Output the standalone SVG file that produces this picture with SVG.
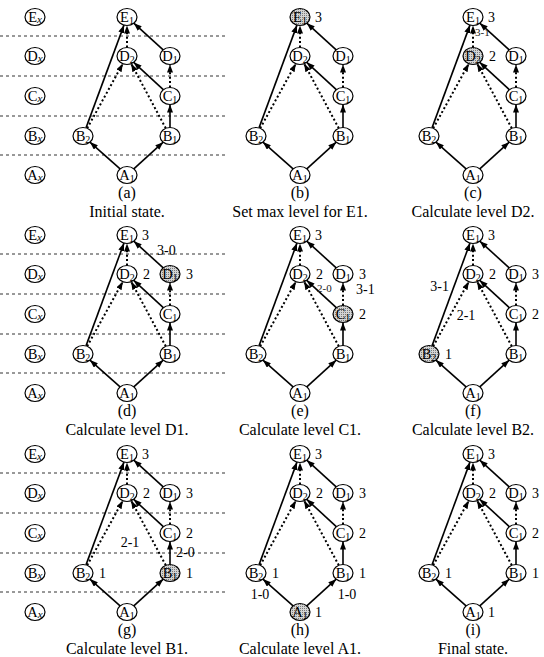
<svg xmlns="http://www.w3.org/2000/svg" width="544" height="657" viewBox="0 0 544 657">
<defs>
<style>
.n{fill:#fff;stroke:#000;stroke-width:1.2}
.h{fill:url(#hatch);stroke:#000;stroke-width:1.2}
.nl{font-family:"Liberation Serif","Times New Roman",serif;font-size:14.5px;text-anchor:middle;fill:#000}
.sb{font-size:10px}
.it{font-size:11px;font-style:italic}
.lv{font-family:"Liberation Serif","Times New Roman",serif;font-size:14px;fill:#000}
.sm{font-family:"Liberation Serif","Times New Roman",serif;font-size:11px;fill:#222}
.mid{text-anchor:middle}
.end{text-anchor:end}
.cap{font-family:"Liberation Serif","Times New Roman",serif;font-size:16px;text-anchor:middle;fill:#000}
.s{stroke:#000;stroke-width:1.6;fill:none;marker-end:url(#ah)}
.d{stroke:#000;stroke-width:2;stroke-dasharray:2 2.4;fill:none;marker-end:url(#ah)}
.grid{stroke:#333;stroke-width:1;stroke-dasharray:3 3;fill:none}
</style>
<pattern id="hatch" width="2" height="2" patternUnits="userSpaceOnUse"><rect width="2" height="2" fill="#d4d4d4"/><rect width="1" height="1" fill="#7a7a7a"/></pattern>
<marker id="ah" viewBox="0 0 8 6" refX="8" refY="3" markerWidth="8" markerHeight="6" markerUnits="userSpaceOnUse" orient="auto"><path d="M0,0 L8,3 L0,6 z" fill="#000"/></marker>
</defs>
<rect width="544" height="657" fill="#fff"/>

<g id="grid">
<line class="grid" x1="0" y1="36" x2="225" y2="36"/><line class="grid" x1="0" y1="76" x2="225" y2="76"/><line class="grid" x1="0" y1="116" x2="225" y2="116"/><line class="grid" x1="0" y1="155" x2="225" y2="155"/>
<line class="grid" x1="0" y1="254" x2="225" y2="254"/><line class="grid" x1="0" y1="294" x2="225" y2="294"/><line class="grid" x1="0" y1="334" x2="225" y2="334"/><line class="grid" x1="0" y1="373" x2="225" y2="373"/>
<line class="grid" x1="0" y1="473" x2="225" y2="473"/><line class="grid" x1="0" y1="513" x2="225" y2="513"/><line class="grid" x1="0" y1="553" x2="225" y2="553"/><line class="grid" x1="0" y1="592" x2="225" y2="592"/>
</g>

<g id="connectors">
<g transform="translate(0,0)"><line class="s" x1="86" y1="127.9" x2="124" y2="25.1"/><line class="d" x1="127" y1="47.5" x2="127" y2="25.5"/><line class="s" x1="163.2" y1="49.8" x2="133.8" y2="23.2"/><line class="d" x1="87.2" y1="128.3" x2="122.8" y2="63.7"/><line class="d" x1="165.8" y1="128.3" x2="131.2" y2="63.7"/><line class="s" x1="163.3" y1="89.7" x2="133.7" y2="62.3"/><line class="d" x1="170" y1="87.5" x2="170" y2="64.5"/><line class="s" x1="170" y1="127.5" x2="170" y2="104.5"/><line class="s" x1="120.1" y1="168.9" x2="89.9" y2="142.1"/><line class="s" x1="133.8" y1="168.8" x2="163.2" y2="142.2"/></g>
<g transform="translate(173,0)"><line class="s" x1="86" y1="127.9" x2="124" y2="25.1"/><line class="d" x1="127" y1="47.5" x2="127" y2="25.5"/><line class="s" x1="163.2" y1="49.8" x2="133.8" y2="23.2"/><line class="d" x1="87.2" y1="128.3" x2="122.8" y2="63.7"/><line class="d" x1="165.8" y1="128.3" x2="131.2" y2="63.7"/><line class="s" x1="163.3" y1="89.7" x2="133.7" y2="62.3"/><line class="d" x1="170" y1="87.5" x2="170" y2="64.5"/><line class="s" x1="170" y1="127.5" x2="170" y2="104.5"/><line class="s" x1="120.1" y1="168.9" x2="89.9" y2="142.1"/><line class="s" x1="133.8" y1="168.8" x2="163.2" y2="142.2"/></g>
<g transform="translate(346,0)"><line class="s" x1="86" y1="127.9" x2="124" y2="25.1"/><line class="d" x1="127" y1="47.5" x2="127" y2="25.5"/><line class="s" x1="163.2" y1="49.8" x2="133.8" y2="23.2"/><line class="d" x1="87.2" y1="128.3" x2="122.8" y2="63.7"/><line class="d" x1="165.8" y1="128.3" x2="131.2" y2="63.7"/><line class="s" x1="163.3" y1="89.7" x2="133.7" y2="62.3"/><line class="d" x1="170" y1="87.5" x2="170" y2="64.5"/><line class="s" x1="170" y1="127.5" x2="170" y2="104.5"/><line class="s" x1="120.1" y1="168.9" x2="89.9" y2="142.1"/><line class="s" x1="133.8" y1="168.8" x2="163.2" y2="142.2"/></g>
<g transform="translate(0,218)"><line class="s" x1="86" y1="127.9" x2="124" y2="25.1"/><line class="d" x1="127" y1="47.5" x2="127" y2="25.5"/><line class="s" x1="163.2" y1="49.8" x2="133.8" y2="23.2"/><line class="d" x1="87.2" y1="128.3" x2="122.8" y2="63.7"/><line class="d" x1="165.8" y1="128.3" x2="131.2" y2="63.7"/><line class="s" x1="163.3" y1="89.7" x2="133.7" y2="62.3"/><line class="d" x1="170" y1="87.5" x2="170" y2="64.5"/><line class="s" x1="170" y1="127.5" x2="170" y2="104.5"/><line class="s" x1="120.1" y1="168.9" x2="89.9" y2="142.1"/><line class="s" x1="133.8" y1="168.8" x2="163.2" y2="142.2"/></g>
<g transform="translate(173,218)"><line class="s" x1="86" y1="127.9" x2="124" y2="25.1"/><line class="d" x1="127" y1="47.5" x2="127" y2="25.5"/><line class="s" x1="163.2" y1="49.8" x2="133.8" y2="23.2"/><line class="d" x1="87.2" y1="128.3" x2="122.8" y2="63.7"/><line class="d" x1="165.8" y1="128.3" x2="131.2" y2="63.7"/><line class="s" x1="163.3" y1="89.7" x2="133.7" y2="62.3"/><line class="d" x1="170" y1="87.5" x2="170" y2="64.5"/><line class="s" x1="170" y1="127.5" x2="170" y2="104.5"/><line class="s" x1="120.1" y1="168.9" x2="89.9" y2="142.1"/><line class="s" x1="133.8" y1="168.8" x2="163.2" y2="142.2"/></g>
<g transform="translate(346,218)"><line class="s" x1="86" y1="127.9" x2="124" y2="25.1"/><line class="d" x1="127" y1="47.5" x2="127" y2="25.5"/><line class="s" x1="163.2" y1="49.8" x2="133.8" y2="23.2"/><line class="d" x1="87.2" y1="128.3" x2="122.8" y2="63.7"/><line class="d" x1="165.8" y1="128.3" x2="131.2" y2="63.7"/><line class="s" x1="163.3" y1="89.7" x2="133.7" y2="62.3"/><line class="d" x1="170" y1="87.5" x2="170" y2="64.5"/><line class="s" x1="170" y1="127.5" x2="170" y2="104.5"/><line class="s" x1="120.1" y1="168.9" x2="89.9" y2="142.1"/><line class="s" x1="133.8" y1="168.8" x2="163.2" y2="142.2"/></g>
<g transform="translate(0,437)"><line class="s" x1="86" y1="127.9" x2="124" y2="25.1"/><line class="d" x1="127" y1="47.5" x2="127" y2="25.5"/><line class="s" x1="163.2" y1="49.8" x2="133.8" y2="23.2"/><line class="d" x1="87.2" y1="128.3" x2="122.8" y2="63.7"/><line class="d" x1="165.8" y1="128.3" x2="131.2" y2="63.7"/><line class="s" x1="163.3" y1="89.7" x2="133.7" y2="62.3"/><line class="d" x1="170" y1="87.5" x2="170" y2="64.5"/><line class="s" x1="170" y1="127.5" x2="170" y2="104.5"/><line class="s" x1="120.1" y1="168.9" x2="89.9" y2="142.1"/><line class="s" x1="133.8" y1="168.8" x2="163.2" y2="142.2"/></g>
<g transform="translate(173,437)"><line class="s" x1="86" y1="127.9" x2="124" y2="25.1"/><line class="d" x1="127" y1="47.5" x2="127" y2="25.5"/><line class="s" x1="163.2" y1="49.8" x2="133.8" y2="23.2"/><line class="d" x1="87.2" y1="128.3" x2="122.8" y2="63.7"/><line class="d" x1="165.8" y1="128.3" x2="131.2" y2="63.7"/><line class="s" x1="163.3" y1="89.7" x2="133.7" y2="62.3"/><line class="d" x1="170" y1="87.5" x2="170" y2="64.5"/><line class="s" x1="170" y1="127.5" x2="170" y2="104.5"/><line class="s" x1="120.1" y1="168.9" x2="89.9" y2="142.1"/><line class="s" x1="133.8" y1="168.8" x2="163.2" y2="142.2"/></g>
<g transform="translate(346,437)"><line class="s" x1="86" y1="127.9" x2="124" y2="25.1"/><line class="d" x1="127" y1="47.5" x2="127" y2="25.5"/><line class="s" x1="163.2" y1="49.8" x2="133.8" y2="23.2"/><line class="d" x1="87.2" y1="128.3" x2="122.8" y2="63.7"/><line class="d" x1="165.8" y1="128.3" x2="131.2" y2="63.7"/><line class="s" x1="163.3" y1="89.7" x2="133.7" y2="62.3"/><line class="d" x1="170" y1="87.5" x2="170" y2="64.5"/><line class="s" x1="170" y1="127.5" x2="170" y2="104.5"/><line class="s" x1="120.1" y1="168.9" x2="89.9" y2="142.1"/><line class="s" x1="133.8" y1="168.8" x2="163.2" y2="142.2"/></g>
</g>

<g id="row-labels">
<g id="r1-Ex" transform="translate(35,17)"><ellipse class="n" rx="10" ry="8.5"/><text class="nl" y="5">E<tspan class="it" dy="1">x</tspan></text></g>
<g id="r1-Dx" transform="translate(35,56)"><ellipse class="n" rx="10" ry="8.5"/><text class="nl" y="5">D<tspan class="it" dy="1">x</tspan></text></g>
<g id="r1-Cx" transform="translate(35,96)"><ellipse class="n" rx="10" ry="8.5"/><text class="nl" y="5">C<tspan class="it" dy="1">x</tspan></text></g>
<g id="r1-Bx" transform="translate(35,136)"><ellipse class="n" rx="10" ry="8.5"/><text class="nl" y="5">B<tspan class="it" dy="1">x</tspan></text></g>
<g id="r1-Ax" transform="translate(35,175)"><ellipse class="n" rx="10" ry="8.5"/><text class="nl" y="5">A<tspan class="it" dy="1">x</tspan></text></g>
<g id="r2-Ex" transform="translate(35,235)"><ellipse class="n" rx="10" ry="8.5"/><text class="nl" y="5">E<tspan class="it" dy="1">x</tspan></text></g>
<g id="r2-Dx" transform="translate(35,274)"><ellipse class="n" rx="10" ry="8.5"/><text class="nl" y="5">D<tspan class="it" dy="1">x</tspan></text></g>
<g id="r2-Cx" transform="translate(35,314)"><ellipse class="n" rx="10" ry="8.5"/><text class="nl" y="5">C<tspan class="it" dy="1">x</tspan></text></g>
<g id="r2-Bx" transform="translate(35,354)"><ellipse class="n" rx="10" ry="8.5"/><text class="nl" y="5">B<tspan class="it" dy="1">x</tspan></text></g>
<g id="r2-Ax" transform="translate(35,393)"><ellipse class="n" rx="10" ry="8.5"/><text class="nl" y="5">A<tspan class="it" dy="1">x</tspan></text></g>
<g id="r3-Ex" transform="translate(35,454)"><ellipse class="n" rx="10" ry="8.5"/><text class="nl" y="5">E<tspan class="it" dy="1">x</tspan></text></g>
<g id="r3-Dx" transform="translate(35,493)"><ellipse class="n" rx="10" ry="8.5"/><text class="nl" y="5">D<tspan class="it" dy="1">x</tspan></text></g>
<g id="r3-Cx" transform="translate(35,533)"><ellipse class="n" rx="10" ry="8.5"/><text class="nl" y="5">C<tspan class="it" dy="1">x</tspan></text></g>
<g id="r3-Bx" transform="translate(35,573)"><ellipse class="n" rx="10" ry="8.5"/><text class="nl" y="5">B<tspan class="it" dy="1">x</tspan></text></g>
<g id="r3-Ax" transform="translate(35,612)"><ellipse class="n" rx="10" ry="8.5"/><text class="nl" y="5">A<tspan class="it" dy="1">x</tspan></text></g>
</g>

<g id="nodes">
<g id="a-E1" transform="translate(127,17)"><ellipse class="n" rx="10" ry="8.5"/><text class="nl" y="5">E<tspan class="sb" dy="2">1</tspan></text></g>
<g id="a-D2" transform="translate(127,56)"><ellipse class="n" rx="10" ry="8.5"/><text class="nl" y="5">D<tspan class="sb" dy="2">2</tspan></text></g>
<g id="a-D1" transform="translate(170,56)"><ellipse class="n" rx="10" ry="8.5"/><text class="nl" y="5">D<tspan class="sb" dy="2">1</tspan></text></g>
<g id="a-C1" transform="translate(170,96)"><ellipse class="n" rx="10" ry="8.5"/><text class="nl" y="5">C<tspan class="sb" dy="2">1</tspan></text></g>
<g id="a-B2" transform="translate(83,136)"><ellipse class="n" rx="10" ry="8.5"/><text class="nl" y="5">B<tspan class="sb" dy="2">2</tspan></text></g>
<g id="a-B1" transform="translate(170,136)"><ellipse class="n" rx="10" ry="8.5"/><text class="nl" y="5">B<tspan class="sb" dy="2">1</tspan></text></g>
<g id="a-A1" transform="translate(127,175)"><ellipse class="n" rx="10" ry="8.5"/><text class="nl" y="5">A<tspan class="sb" dy="2">1</tspan></text></g>

<g id="b-E1" transform="translate(300,17)"><ellipse class="h" rx="10" ry="8.5"/><text class="nl" y="5">E<tspan class="sb" dy="2">1</tspan></text></g>
<g id="b-D2" transform="translate(300,56)"><ellipse class="n" rx="10" ry="8.5"/><text class="nl" y="5">D<tspan class="sb" dy="2">2</tspan></text></g>
<g id="b-D1" transform="translate(343,56)"><ellipse class="n" rx="10" ry="8.5"/><text class="nl" y="5">D<tspan class="sb" dy="2">1</tspan></text></g>
<g id="b-C1" transform="translate(343,96)"><ellipse class="n" rx="10" ry="8.5"/><text class="nl" y="5">C<tspan class="sb" dy="2">1</tspan></text></g>
<g id="b-B2" transform="translate(256,136)"><ellipse class="n" rx="10" ry="8.5"/><text class="nl" y="5">B<tspan class="sb" dy="2">2</tspan></text></g>
<g id="b-B1" transform="translate(343,136)"><ellipse class="n" rx="10" ry="8.5"/><text class="nl" y="5">B<tspan class="sb" dy="2">1</tspan></text></g>
<g id="b-A1" transform="translate(300,175)"><ellipse class="n" rx="10" ry="8.5"/><text class="nl" y="5">A<tspan class="sb" dy="2">1</tspan></text></g>

<g id="c-E1" transform="translate(473,17)"><ellipse class="n" rx="10" ry="8.5"/><text class="nl" y="5">E<tspan class="sb" dy="2">1</tspan></text></g>
<g id="c-D2" transform="translate(473,56)"><ellipse class="h" rx="10" ry="8.5"/><text class="nl" y="5">D<tspan class="sb" dy="2">2</tspan></text></g>
<g id="c-D1" transform="translate(516,56)"><ellipse class="n" rx="10" ry="8.5"/><text class="nl" y="5">D<tspan class="sb" dy="2">1</tspan></text></g>
<g id="c-C1" transform="translate(516,96)"><ellipse class="n" rx="10" ry="8.5"/><text class="nl" y="5">C<tspan class="sb" dy="2">1</tspan></text></g>
<g id="c-B2" transform="translate(429,136)"><ellipse class="n" rx="10" ry="8.5"/><text class="nl" y="5">B<tspan class="sb" dy="2">2</tspan></text></g>
<g id="c-B1" transform="translate(516,136)"><ellipse class="n" rx="10" ry="8.5"/><text class="nl" y="5">B<tspan class="sb" dy="2">1</tspan></text></g>
<g id="c-A1" transform="translate(473,175)"><ellipse class="n" rx="10" ry="8.5"/><text class="nl" y="5">A<tspan class="sb" dy="2">1</tspan></text></g>

<g id="d-E1" transform="translate(127,235)"><ellipse class="n" rx="10" ry="8.5"/><text class="nl" y="5">E<tspan class="sb" dy="2">1</tspan></text></g>
<g id="d-D2" transform="translate(127,274)"><ellipse class="n" rx="10" ry="8.5"/><text class="nl" y="5">D<tspan class="sb" dy="2">2</tspan></text></g>
<g id="d-D1" transform="translate(170,274)"><ellipse class="h" rx="10" ry="8.5"/><text class="nl" y="5">D<tspan class="sb" dy="2">1</tspan></text></g>
<g id="d-C1" transform="translate(170,314)"><ellipse class="n" rx="10" ry="8.5"/><text class="nl" y="5">C<tspan class="sb" dy="2">1</tspan></text></g>
<g id="d-B2" transform="translate(83,354)"><ellipse class="n" rx="10" ry="8.5"/><text class="nl" y="5">B<tspan class="sb" dy="2">2</tspan></text></g>
<g id="d-B1" transform="translate(170,354)"><ellipse class="n" rx="10" ry="8.5"/><text class="nl" y="5">B<tspan class="sb" dy="2">1</tspan></text></g>
<g id="d-A1" transform="translate(127,393)"><ellipse class="n" rx="10" ry="8.5"/><text class="nl" y="5">A<tspan class="sb" dy="2">1</tspan></text></g>

<g id="e-E1" transform="translate(300,235)"><ellipse class="n" rx="10" ry="8.5"/><text class="nl" y="5">E<tspan class="sb" dy="2">1</tspan></text></g>
<g id="e-D2" transform="translate(300,274)"><ellipse class="n" rx="10" ry="8.5"/><text class="nl" y="5">D<tspan class="sb" dy="2">2</tspan></text></g>
<g id="e-D1" transform="translate(343,274)"><ellipse class="n" rx="10" ry="8.5"/><text class="nl" y="5">D<tspan class="sb" dy="2">1</tspan></text></g>
<g id="e-C1" transform="translate(343,314)"><ellipse class="h" rx="10" ry="8.5"/><text class="nl" y="5">C<tspan class="sb" dy="2">1</tspan></text></g>
<g id="e-B2" transform="translate(256,354)"><ellipse class="n" rx="10" ry="8.5"/><text class="nl" y="5">B<tspan class="sb" dy="2">2</tspan></text></g>
<g id="e-B1" transform="translate(343,354)"><ellipse class="n" rx="10" ry="8.5"/><text class="nl" y="5">B<tspan class="sb" dy="2">1</tspan></text></g>
<g id="e-A1" transform="translate(300,393)"><ellipse class="n" rx="10" ry="8.5"/><text class="nl" y="5">A<tspan class="sb" dy="2">1</tspan></text></g>

<g id="f-E1" transform="translate(473,235)"><ellipse class="n" rx="10" ry="8.5"/><text class="nl" y="5">E<tspan class="sb" dy="2">1</tspan></text></g>
<g id="f-D2" transform="translate(473,274)"><ellipse class="n" rx="10" ry="8.5"/><text class="nl" y="5">D<tspan class="sb" dy="2">2</tspan></text></g>
<g id="f-D1" transform="translate(516,274)"><ellipse class="n" rx="10" ry="8.5"/><text class="nl" y="5">D<tspan class="sb" dy="2">1</tspan></text></g>
<g id="f-C1" transform="translate(516,314)"><ellipse class="n" rx="10" ry="8.5"/><text class="nl" y="5">C<tspan class="sb" dy="2">1</tspan></text></g>
<g id="f-B2" transform="translate(429,354)"><ellipse class="h" rx="10" ry="8.5"/><text class="nl" y="5">B<tspan class="sb" dy="2">2</tspan></text></g>
<g id="f-B1" transform="translate(516,354)"><ellipse class="n" rx="10" ry="8.5"/><text class="nl" y="5">B<tspan class="sb" dy="2">1</tspan></text></g>
<g id="f-A1" transform="translate(473,393)"><ellipse class="n" rx="10" ry="8.5"/><text class="nl" y="5">A<tspan class="sb" dy="2">1</tspan></text></g>

<g id="g-E1" transform="translate(127,454)"><ellipse class="n" rx="10" ry="8.5"/><text class="nl" y="5">E<tspan class="sb" dy="2">1</tspan></text></g>
<g id="g-D2" transform="translate(127,493)"><ellipse class="n" rx="10" ry="8.5"/><text class="nl" y="5">D<tspan class="sb" dy="2">2</tspan></text></g>
<g id="g-D1" transform="translate(170,493)"><ellipse class="n" rx="10" ry="8.5"/><text class="nl" y="5">D<tspan class="sb" dy="2">1</tspan></text></g>
<g id="g-C1" transform="translate(170,533)"><ellipse class="n" rx="10" ry="8.5"/><text class="nl" y="5">C<tspan class="sb" dy="2">1</tspan></text></g>
<g id="g-B2" transform="translate(83,573)"><ellipse class="n" rx="10" ry="8.5"/><text class="nl" y="5">B<tspan class="sb" dy="2">2</tspan></text></g>
<g id="g-B1" transform="translate(170,573)"><ellipse class="h" rx="10" ry="8.5"/><text class="nl" y="5">B<tspan class="sb" dy="2">1</tspan></text></g>
<g id="g-A1" transform="translate(127,612)"><ellipse class="n" rx="10" ry="8.5"/><text class="nl" y="5">A<tspan class="sb" dy="2">1</tspan></text></g>

<g id="h-E1" transform="translate(300,454)"><ellipse class="n" rx="10" ry="8.5"/><text class="nl" y="5">E<tspan class="sb" dy="2">1</tspan></text></g>
<g id="h-D2" transform="translate(300,493)"><ellipse class="n" rx="10" ry="8.5"/><text class="nl" y="5">D<tspan class="sb" dy="2">2</tspan></text></g>
<g id="h-D1" transform="translate(343,493)"><ellipse class="n" rx="10" ry="8.5"/><text class="nl" y="5">D<tspan class="sb" dy="2">1</tspan></text></g>
<g id="h-C1" transform="translate(343,533)"><ellipse class="n" rx="10" ry="8.5"/><text class="nl" y="5">C<tspan class="sb" dy="2">1</tspan></text></g>
<g id="h-B2" transform="translate(256,573)"><ellipse class="n" rx="10" ry="8.5"/><text class="nl" y="5">B<tspan class="sb" dy="2">2</tspan></text></g>
<g id="h-B1" transform="translate(343,573)"><ellipse class="n" rx="10" ry="8.5"/><text class="nl" y="5">B<tspan class="sb" dy="2">1</tspan></text></g>
<g id="h-A1" transform="translate(300,612)"><ellipse class="h" rx="10" ry="8.5"/><text class="nl" y="5">A<tspan class="sb" dy="2">1</tspan></text></g>

<g id="i-E1" transform="translate(473,454)"><ellipse class="n" rx="10" ry="8.5"/><text class="nl" y="5">E<tspan class="sb" dy="2">1</tspan></text></g>
<g id="i-D2" transform="translate(473,493)"><ellipse class="n" rx="10" ry="8.5"/><text class="nl" y="5">D<tspan class="sb" dy="2">2</tspan></text></g>
<g id="i-D1" transform="translate(516,493)"><ellipse class="n" rx="10" ry="8.5"/><text class="nl" y="5">D<tspan class="sb" dy="2">1</tspan></text></g>
<g id="i-C1" transform="translate(516,533)"><ellipse class="n" rx="10" ry="8.5"/><text class="nl" y="5">C<tspan class="sb" dy="2">1</tspan></text></g>
<g id="i-B2" transform="translate(429,573)"><ellipse class="n" rx="10" ry="8.5"/><text class="nl" y="5">B<tspan class="sb" dy="2">2</tspan></text></g>
<g id="i-B1" transform="translate(516,573)"><ellipse class="n" rx="10" ry="8.5"/><text class="nl" y="5">B<tspan class="sb" dy="2">1</tspan></text></g>
<g id="i-A1" transform="translate(473,612)"><ellipse class="n" rx="10" ry="8.5"/><text class="nl" y="5">A<tspan class="sb" dy="2">1</tspan></text></g>
</g>

<g id="levels">
<text class="lv" x="315" y="22">3</text>

<text class="lv" x="488" y="22">3</text><text class="lv" x="489" y="61">2</text><text class="sm" x="475" y="36">3-1</text>

<text class="lv" x="142" y="240">3</text><text class="lv" x="143" y="279">2</text><text class="lv" x="186" y="279">3</text><text class="lv" x="157" y="255">3-0</text>

<text class="lv" x="315" y="240">3</text><text class="lv" x="316" y="279">2</text><text class="lv" x="359" y="279">3</text><text class="lv" x="359" y="319">2</text><text class="sm" x="317" y="292">2-0</text><text class="lv" x="356" y="294">3-1</text>

<text class="lv" x="488" y="240">3</text><text class="lv" x="489" y="279">2</text><text class="lv" x="532" y="279">3</text><text class="lv" x="532" y="319">2</text><text class="lv" x="445" y="359">1</text><text class="lv end" x="449" y="291">3-1</text><text class="lv mid" x="466" y="320">2-1</text>

<text class="lv" x="142" y="459">3</text><text class="lv" x="143" y="498">2</text><text class="lv" x="186" y="498">3</text><text class="lv" x="186" y="538">2</text><text class="lv" x="99" y="578">1</text><text class="lv" x="186" y="578">1</text><text class="lv mid" x="130" y="547">2-1</text><text class="lv" x="176" y="557">2-0</text>

<text class="lv" x="315" y="459">3</text><text class="lv" x="316" y="498">2</text><text class="lv" x="359" y="498">3</text><text class="lv" x="359" y="538">2</text><text class="lv" x="272" y="578">1</text><text class="lv" x="359" y="578">1</text><text class="lv" x="315" y="617">1</text><text class="lv mid" x="260" y="599">1-0</text><text class="lv mid" x="347" y="599">1-0</text>

<text class="lv" x="488" y="459">3</text><text class="lv" x="489" y="498">2</text><text class="lv" x="532" y="498">3</text><text class="lv" x="532" y="538">2</text><text class="lv" x="445" y="578">1</text><text class="lv" x="532" y="578">1</text><text class="lv" x="488" y="617">1</text>
</g>

<g id="captions">
<text class="cap" x="127" y="198">(a)</text><text class="cap" x="127" y="217">Initial state.</text>
<text class="cap" x="300" y="198">(b)</text><text class="cap" x="300" y="217">Set max level for E1.</text>
<text class="cap" x="473" y="198">(c)</text><text class="cap" x="473" y="217">Calculate level D2.</text>
<text class="cap" x="127" y="416">(d)</text><text class="cap" x="127" y="435">Calculate level D1.</text>
<text class="cap" x="300" y="416">(e)</text><text class="cap" x="300" y="435">Calculate level C1.</text>
<text class="cap" x="473" y="416">(f)</text><text class="cap" x="473" y="435">Calculate level B2.</text>
<text class="cap" x="127" y="635">(g)</text><text class="cap" x="127" y="654">Calculate level B1.</text>
<text class="cap" x="300" y="635">(h)</text><text class="cap" x="300" y="654">Calculate level A1.</text>
<text class="cap" x="473" y="635">(i)</text><text class="cap" x="473" y="654">Final state.</text>
</g>
</svg>
